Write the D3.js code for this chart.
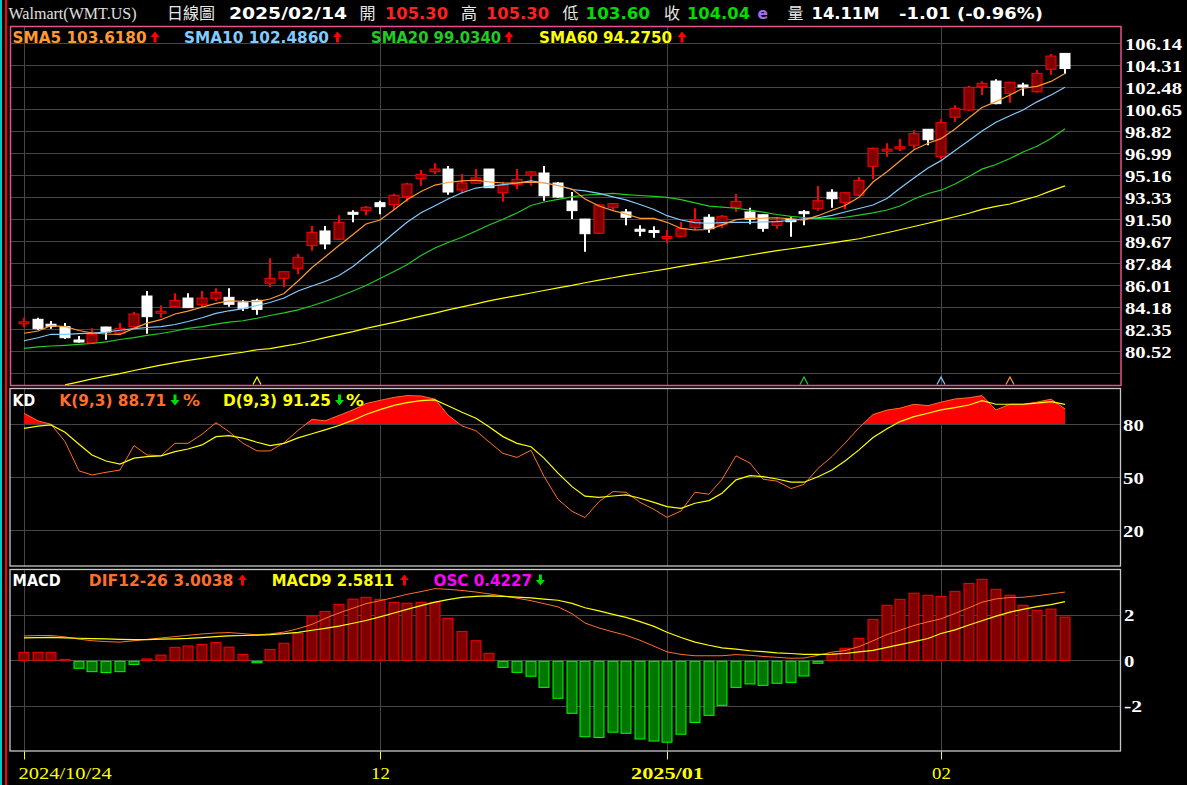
<!DOCTYPE html>
<html><head><meta charset="utf-8">
<script src="https://cdn.jsdelivr.net/npm/d3@7"></script>
<style>html,body{margin:0;padding:0;background:#000;overflow:hidden}</style>
</head><body>
<svg id="c" width="1187" height="785"></svg>
<script>
// ---------------- DATA ----------------
const dates = ["2024/10/24","2024/10/25","2024/10/28","2024/10/29","2024/10/30","2024/10/31","2024/11/01","2024/11/04","2024/11/05","2024/11/06","2024/11/07","2024/11/08","2024/11/11","2024/11/12","2024/11/13","2024/11/14","2024/11/15","2024/11/18","2024/11/19","2024/11/20","2024/11/21","2024/11/22","2024/11/25","2024/11/26","2024/11/27","2024/11/29","2024/12/02","2024/12/03","2024/12/04","2024/12/05","2024/12/06","2024/12/09","2024/12/10","2024/12/11","2024/12/12","2024/12/13","2024/12/16","2024/12/17","2024/12/18","2024/12/19","2024/12/20","2024/12/23","2024/12/24","2024/12/26","2024/12/27","2024/12/30","2024/12/31","2025/01/02","2025/01/03","2025/01/06","2025/01/07","2025/01/08","2025/01/10","2025/01/13","2025/01/14","2025/01/15","2025/01/16","2025/01/17","2025/01/21","2025/01/22","2025/01/23","2025/01/24","2025/01/27","2025/01/28","2025/01/29","2025/01/30","2025/01/31","2025/02/03","2025/02/04","2025/02/05","2025/02/06","2025/02/07","2025/02/10","2025/02/11","2025/02/12","2025/02/13","2025/02/14"];

const openP = [82.88,83.18,82.70,82.57,81.46,81.24,82.54,82.02,82.57,85.12, 83.68,84.23,84.95,84.43,84.93,85.01,84.56,84.76,86.18,86.59, 87.43,89.31,90.53,89.84,92.02,92.25,92.88,92.72,93.38,94.88, 95.46,95.68,93.94,94.50,95.68,93.71,94.41,95.16,95.35,94.52, 93.02,91.52,90.34,92.50,92.11,90.60,90.49,89.98,90.09,90.83, 91.67,91.03,92.50,92.11,91.88,91.00,91.50,92.07,92.38,93.75, 92.91,93.50,95.91,97.24,97.44,97.66,98.99,96.71,99.99,100.59, 102.53,103.00,101.98,102.61,102.11,103.98,105.30];
const highP = [83.32,83.32,83.04,82.87,81.79,82.43,82.56,82.87,83.79,85.54, 84.35,85.34,85.34,85.54,85.76,85.76,84.79,84.90,88.26,87.16, 88.61,90.94,90.94,91.83,92.25,92.61,93.05,93.63,94.54,95.60, 96.16,95.93,95.27,95.68,95.68,94.63,95.68,95.52,95.93,94.60, 93.77,91.52,92.75,92.86,92.36,91.00,90.92,90.61,91.28,92.41, 91.92,91.86,93.60,92.47,91.88,91.63,91.67,92.27,94.27,93.99, 93.75,95.02,97.45,97.82,98.18,98.90,98.99,99.82,100.98,102.59, 102.98,103.14,102.95,102.86,103.92,105.25,105.30];
const lowP = [82.52,82.29,82.40,81.54,81.24,81.20,81.49,81.85,82.48,81.98, 83.32,84.15,84.15,84.23,84.70,84.23,83.87,83.57,85.84,85.84, 86.93,88.89,89.00,89.80,91.25,91.83,91.92,92.27,92.96,94.30, 95.27,93.55,93.66,94.45,94.13,92.96,94.02,94.30,93.05,93.30, 91.52,88.80,90.30,92.19,91.00,90.09,89.97,89.50,90.05,90.61, 90.39,90.75,92.13,91.08,90.47,90.72,90.05,91.00,92.22,92.47, 92.33,93.45,94.83,96.71,97.18,97.37,97.66,96.49,99.62,100.53, 101.84,101.07,101.20,101.78,102.03,103.53,103.60];
const closeP = [82.90,82.40,82.68,81.65,81.29,81.93,82.13,82.43,83.62,83.40, 83.85,84.76,84.15,84.95,85.43,84.43,84.10,84.01,86.59,87.14, 88.34,90.42,89.45,91.25,91.98,92.50,92.55,93.50,94.44,95.24, 95.68,93.77,94.52,94.94,94.13,94.33,94.83,95.44,93.46,93.35, 92.22,90.30,92.69,92.80,91.67,90.58,90.47,90.00,90.72,91.42, 90.72,91.75,92.99,91.50,90.75,91.33,91.30,92.03,93.05,93.21, 93.71,94.74,97.41,97.26,97.46,98.62,98.12,99.54,100.73,102.48, 102.81,101.12,102.90,102.57,103.64,105.08,104.04];

const sma5 = [82.02,82.21,82.65,82.58,82.25,82.04,81.96,81.92,82.43,82.86, 83.15,83.62,83.86,84.19,84.50,84.72,84.68,84.65,84.87,85.33, 86.37,87.49,88.37,89.32,90.24,91.11,91.44,92.29,93.13,93.81, 94.35,94.56,94.69,94.75,94.62,94.52,94.52,94.60,94.52,94.31, 94.02,93.19,92.61,92.22,91.94,91.58,91.58,91.25,90.74,90.61, 90.65,91.04,91.47,91.58,91.59,91.63,91.53,91.44,91.80,92.25, 92.65,93.33,94.60,95.45,96.35,97.28,97.83,98.21,99.01,99.94, 100.80,101.29,101.84,102.40,102.56,102.97,103.62];
const sma10 = [81.40,81.65,81.94,81.93,81.99,82.04,82.11,82.27,82.40,82.50, 82.58,82.75,83.00,83.31,83.67,83.89,84.07,84.33,84.58,84.95, 85.54,85.95,86.33,86.83,87.58,88.45,89.36,90.36,91.25,92.04, 92.63,93.19,93.71,94.10,94.25,94.38,94.52,94.69,94.54,94.31, 93.98,93.86,93.65,93.36,93.11,92.73,92.32,91.80,91.44,91.23, 91.17,91.23,91.25,91.25,91.28,91.30,91.42,91.53,91.63,91.83, 92.11,92.40,92.69,93.23,94.09,94.94,95.77,96.38,97.22,98.06, 98.85,99.57,100.12,100.59,101.27,101.84,102.49];
const sma20 = [80.77,80.88,80.96,81.02,81.09,81.17,81.31,81.50,81.65,81.84, 82.00,82.21,82.42,82.58,82.78,82.94,83.06,83.27,83.50,83.71, 83.97,84.31,84.66,85.08,85.54,85.99,86.58,87.16,87.72,88.49, 89.11,89.57,90.01,90.53,91.03,91.50,92.03,92.65,92.94,93.15, 93.37,93.52,93.58,93.65,93.56,93.48,93.41,93.33,93.13,92.86, 92.59,92.51,92.42,92.26,92.09,91.90,91.75,91.65,91.58,91.58, 91.67,91.84,92.03,92.27,92.61,93.19,93.65,93.92,94.44,95.06, 95.67,96.06,96.56,97.10,97.58,98.22,99.03];
const sma60 = [null,null,null,77.72,77.97,78.22,78.45,78.67,78.92,79.14, 79.37,79.58,79.77,79.93,80.12,80.28,80.44,80.65,80.75,80.95, 81.15,81.40,81.66,81.91,82.16,82.42,82.68,82.93,83.18,83.44, 83.70,83.96,84.21,84.46,84.71,84.95,85.15,85.37,85.58,85.79, 86.00,86.22,86.44,86.64,86.83,87.01,87.20,87.38,87.58,87.77, 87.95,88.15,88.34,88.53,88.71,88.89,89.05,89.21,89.38,89.54, 89.70,89.88,90.13,90.38,90.63,90.90,91.17,91.43,91.71,92.00, 92.33,92.57,92.77,93.09,93.42,93.86,94.28];

const kVal = [86.2,81.9,80.0,70.2,53.6,51.3,52.8,54.1,67.9,62.6, 62.2,69.2,69.2,74.3,80.9,75.8,69.2,64.9,64.9,69.5, 76.5,82.8,81.9,85.0,88.1,91.7,93.5,95.2,96.2,96.0, 94.2,85.2,79.0,76.3,70.0,63.5,61.2,65.3,50.5,37.5, 30.7,27.2,36.2,41.9,41.5,35.8,31.8,27.3,30.9,41.5, 40.4,48.8,62.1,58.0,48.9,47.8,43.6,46.0,55.0,61.7, 69.3,78.0,85.5,88.0,89.1,91.3,90.5,92.5,94.3,95.0, 96.2,88.1,91.3,91.3,92.5,94.2,88.71];
const dVal = [77.7,78.9,79.6,75.5,68.7,62.6,59.2,57.4,60.8,61.7, 62.1,64.5,66.0,68.3,73.0,73.5,72.1,69.8,67.9,69.2, 72.3,74.6,76.8,79.3,82.3,85.5,88.3,90.7,92.2,93.4, 93.8,90.5,86.8,83.4,78.6,73.0,69.2,67.3,60.8,52.3, 44.7,39.3,38.6,39.4,40.0,38.1,35.8,33.4,32.4,35.3, 36.8,41.0,48.5,50.9,50.3,49.0,47.2,47.2,50.3,54.1, 59.2,65.5,72.5,77.5,81.5,84.3,86.2,88.1,89.4,90.9, 93.4,91.3,91.3,91.3,91.9,92.8,91.25];

const difVal = [1.07,1.09,1.09,1.03,0.93,0.86,0.82,0.80,0.86,0.92, 0.98,1.04,1.10,1.16,1.20,1.22,1.17,1.12,1.16,1.24, 1.39,1.58,1.84,2.08,2.29,2.49,2.62,2.76,2.90,3.02, 3.15,3.12,3.07,3.00,2.92,2.83,2.73,2.62,2.49,2.35, 2.05,1.64,1.42,1.25,1.10,0.88,0.62,0.37,0.26,0.20, 0.20,0.20,0.25,0.22,0.17,0.13,0.09,0.10,0.22,0.36, 0.43,0.60,0.86,1.13,1.32,1.53,1.69,1.82,2.06,2.31, 2.55,2.70,2.76,2.77,2.84,2.92,3.00];
const macd9Val = [0.99,1.00,1.01,0.99,0.97,0.95,0.94,0.92,0.91,0.91, 0.93,0.94,0.96,1.00,1.04,1.07,1.09,1.11,1.13,1.17, 1.23,1.32,1.40,1.50,1.63,1.75,1.91,2.08,2.24,2.40, 2.56,2.67,2.77,2.81,2.83,2.81,2.78,2.74,2.69,2.64, 2.50,2.31,2.17,2.02,1.89,1.70,1.49,1.23,1.00,0.80, 0.66,0.55,0.49,0.42,0.38,0.33,0.30,0.26,0.26,0.27, 0.30,0.37,0.44,0.57,0.69,0.82,0.96,1.18,1.34,1.55, 1.74,1.94,2.12,2.24,2.36,2.45,2.58];
const oscBar = [0.35,0.35,0.35,0.04,-0.35,-0.50,-0.54,-0.50,-0.18,0.06, 0.23,0.57,0.63,0.70,0.79,0.58,0.26,-0.06,0.48,0.75, 1.19,1.95,2.15,2.46,2.69,2.77,2.68,2.55,2.51,2.55, 2.55,1.85,1.27,0.86,0.31,-0.31,-0.53,-0.70,-1.19,-1.67, -2.33,-3.36,-3.39,-3.16,-3.21,-3.46,-3.55,-3.60,-3.25,-2.73, -2.42,-1.98,-1.19,-1.04,-1.10,-1.01,-0.97,-0.69,-0.13,0.26, 0.53,0.97,1.80,2.42,2.68,2.95,2.86,2.81,3.03,3.38, 3.56,3.12,2.86,2.42,2.20,2.25,1.90];

const priceTicks = [106.14,104.31,102.48,100.65,98.82,96.99,95.16,93.33,91.50,89.67,87.84,86.01,84.18,82.35,80.52];
const priceGridExtra = [78.69];
const kdTicks = [80,50,20];
const macdTicks = [2,0,-2];
const xTickIdx = [0,26,47,67];
const xTickText = ["2024/10/24","12","2025/01","02"];
const signalIdx = [17,57,67,72];
const signalLine = ["SMA60","SMA20","SMA10","SMA5"];

const header = {name:"Walmart(WMT.US)", kind:"日線圖", date:"2025/02/14",
  labels:["開","高","低","收"], values:["105.30","105.30","103.60","104.04"],
  e:"e", volLabel:"量", vol:"14.11M", change:"-1.01 (-0.96%)"};
const smaNames = ["SMA5","SMA10","SMA20","SMA60"];
const smaLast = ["103.6180","102.4860","99.0340","94.2750"];
const kdLegend = ["K(9,3) 88.71","D(9,3) 91.25"];
const macdLegend = ["DIF12-26 3.0038","MACD9 2.5811","OSC 0.4227"];

// ---------------- STYLE / LAYOUT ----------------
const SANS = "'DejaVu Sans', Verdana, sans-serif";
const SERIF = "'Liberation Serif','Times New Roman',serif";
const CJK = "'Noto Sans CJK TC','Noto Sans CJK SC',sans-serif";
const smaColor = {SMA5:"#FF9933", SMA10:"#80CCFF", SMA20:"#22CC22", SMA60:"#FFFF00"};
const GRID = "#454545";
const L = 10, R = 1120.5;
const main = {top:26, bot:385.5}, kd = {top:388.5, bot:566}, mp = {top:569.5, bot:751};

const svg = d3.select("#c");
svg.append("rect").attr("width",1187).attr("height",785).attr("fill","#000");

const x = d3.scalePoint().domain(dates).range([24, 1064.5]);
const cx = i => Math.round(x(dates[i]));
const y = d3.scaleLinear().domain([80.52,106.14]).range([351.3,43.3]);
const yk = d3.scaleLinear().domain([0,100]).range([565.6,388.9]);
const ym = d3.scaleLinear().domain([-4,4]).range([751.3,569.3]);

// window frame lines
svg.append("rect").attr("x",0).attr("y",0).attr("width",2).attr("height",785).attr("fill","#00C8C8");
svg.append("rect").attr("x",5).attr("y",0).attr("width",2).attr("height",785).attr("fill","#FF0000");

// clip paths
const defs = svg.append("defs");
function clip(id, t, b){ defs.append("clipPath").attr("id",id).append("rect").attr("x",L).attr("y",t).attr("width",R-L).attr("height",b-t); }
clip("cMain", main.top, main.bot); clip("cKD", kd.top, kd.bot); clip("cM", mp.top, mp.bot);
defs.append("clipPath").attr("id","cKDfill").append("rect").attr("x",L).attr("y",kd.top).attr("width",R-L).attr("height",Math.floor(yk(80))-kd.top);

// grid
function hgrid(vals, sc){ vals.forEach(v=>{ svg.append("line").attr("x1",L).attr("x2",R).attr("y1",Math.round(sc(v))+0.5).attr("y2",Math.round(sc(v))+0.5).attr("stroke",GRID).attr("stroke-width",1); }); }
hgrid(priceTicks.concat(priceGridExtra), y); hgrid(kdTicks, yk); hgrid(macdTicks, ym);
[main,kd,mp].forEach(p=>{ xTickIdx.forEach(i=>{ svg.append("line").attr("x1",cx(i)+0.5).attr("x2",cx(i)+0.5).attr("y1",p.top).attr("y2",p.bot).attr("stroke",GRID); }); });

// ---------------- MAIN PANEL ----------------
const gM = svg.append("g").attr("clip-path","url(#cMain)");
const idx = d3.range(dates.length);
gM.selectAll(".wick").data(idx).join("line")
  .attr("x1",i=>cx(i)).attr("x2",i=>cx(i))
  .attr("y1",i=>y(highP[i])).attr("y2",i=>y(lowP[i]))
  .attr("stroke",i=>closeP[i]>=openP[i]?"#FF0000":"#FFFFFF").attr("stroke-width",2);
gM.selectAll(".body").data(idx).join("rect")
  .attr("x",i=>cx(i)-5).attr("width",10)
  .attr("y",i=>{const t=y(Math.max(openP[i],closeP[i])), b=y(Math.min(openP[i],closeP[i])); return b-t<2?(t+b)/2-1:t;})
  .attr("height",i=>Math.max(2, y(Math.min(openP[i],closeP[i]))-y(Math.max(openP[i],closeP[i]))))
  .attr("fill",i=>closeP[i]>=openP[i]?"#800000":"#FFFFFF")
  .attr("stroke",i=>closeP[i]>=openP[i]?"#FF0000":"#FFFFFF").attr("stroke-width",1);
const maSeries = {SMA5:sma5, SMA10:sma10, SMA20:sma20, SMA60:sma60};
const lineGen = arr => d3.line().defined(i=>arr[i]!=null).x(i=>cx(i)).y(i=>y(arr[i]));
["SMA60","SMA20","SMA10","SMA5"].forEach(n=>{
  gM.append("path").attr("d", lineGen(maSeries[n])(idx)).attr("fill","none").attr("stroke",smaColor[n]).attr("stroke-width",1.2);
});
signalIdx.forEach((i,k)=>{
  const c = cx(i);
  svg.append("path").attr("d",`M${c-4},384.5 L${c},377 L${c+4},384.5`).attr("fill","none").attr("stroke",smaColor[signalLine[k]]).attr("stroke-width",1.2);
});

// ---------------- KD PANEL ----------------
const gK = svg.append("g").attr("clip-path","url(#cKD)");
gK.append("path").attr("clip-path","url(#cKDfill)")
  .attr("d", d3.area().x(i=>cx(i)).y0(yk(80)).y1(i=>yk(kVal[i]))(idx)).attr("fill","#FF0000");
gK.append("path").attr("d", d3.line().x(i=>cx(i)).y(i=>yk(kVal[i]))(idx)).attr("fill","none").attr("stroke","#FF6E28").attr("stroke-width",1);
gK.append("path").attr("d", d3.line().x(i=>cx(i)).y(i=>yk(dVal[i]))(idx)).attr("fill","none").attr("stroke","#FFFF00").attr("stroke-width",1.2);

// ---------------- MACD PANEL ----------------
const gP = svg.append("g").attr("clip-path","url(#cM)");
gP.selectAll(".bar").data(idx).join("rect")
  .attr("x",i=>cx(i)-5).attr("width",10)
  .attr("y",i=>oscBar[i]>=0?ym(oscBar[i]):ym(0)+1)
  .attr("height",i=>Math.max(1.5, Math.abs(ym(oscBar[i])-ym(0))-(oscBar[i]>=0?0:1)))
  .attr("fill",i=>oscBar[i]>=0?"#800000":"#007800")
  .attr("stroke",i=>oscBar[i]>=0?"#FF0000":"#00FF00").attr("stroke-width",1);
gP.append("path").attr("d", d3.line().x(i=>cx(i)).y(i=>ym(difVal[i]))(idx)).attr("fill","none").attr("stroke","#FF6E28").attr("stroke-width",1);
gP.append("path").attr("d", d3.line().x(i=>cx(i)).y(i=>ym(macd9Val[i]))(idx)).attr("fill","none").attr("stroke","#FFFF00").attr("stroke-width",1.2);

// ---------------- BORDERS ----------------
svg.append("rect").attr("x",L+0.5).attr("y",main.top+0.5).attr("width",R-L).attr("height",main.bot-main.top-0.5).attr("fill","none").attr("stroke","#E8508C").attr("stroke-width",1.5);
svg.append("rect").attr("x",L).attr("y",kd.top).attr("width",R-L).attr("height",kd.bot-kd.top).attr("fill","none").attr("stroke","#C8C8C8").attr("stroke-width",1.3);
svg.append("rect").attr("x",L).attr("y",mp.top).attr("width",R-L).attr("height",mp.bot-mp.top).attr("fill","none").attr("stroke","#C8C8C8").attr("stroke-width",1.3);

// ---------------- TEXT ----------------
function txt(s, xx, yy, o){
  const t = svg.append("text").attr("x",xx).attr("y",yy).text(s)
    .attr("fill",o.c).attr("font-family",o.f).attr("font-size",o.s).attr("font-weight",o.w||"normal");
  if (o.L) t.attr("textLength",o.L).attr("lengthAdjust","spacingAndGlyphs");
  return t;
}
function arrow(c, base, up, color){
  const top = base-11;
  const p = up
    ? `M${c},${top} L${c+4.5},${top+5.5} L${c+1.5},${top+5.5} L${c+1.5},${base} L${c-1.5},${base} L${c-1.5},${top+5.5} L${c-4.5},${top+5.5} Z`
    : `M${c},${base} L${c+4.5},${base-5.5} L${c+1.5},${base-5.5} L${c+1.5},${top} L${c-1.5},${top} L${c-1.5},${base-5.5} L${c-4.5},${base-5.5} Z`;
  svg.append("path").attr("d",p).attr("fill",color);
}
const HB = 18.5;
txt(header.name, 8.5, HB, {c:"#E0E0E0", f:SERIF, s:17, L:128});
txt(header.kind, 167, HB, {c:"#E8E8E8", f:CJK, s:16, L:48});
txt(header.date, 229, HB, {c:"#FFFFFF", f:SANS, s:16, w:"bold", L:118});
const lblX = [359.5,461,562.5,664], valX = [385,486,585.5,687], valW=[63,63,64.5,63];
const valC = ["#FF2020","#FF2020","#00DD00","#00DD00"];
header.labels.forEach((s,k)=>{ txt(s, lblX[k], HB, {c:"#E8E8E8", f:CJK, s:16}); txt(header.values[k], valX[k], HB, {c:valC[k], f:SANS, s:16, w:"bold", L:valW[k]}); });
txt(header.e, 757.5, HB, {c:"#A070F0", f:SANS, s:16, w:"bold", L:10.5});
txt(header.volLabel, 787.5, HB, {c:"#E8E8E8", f:CJK, s:16});
txt(header.vol, 811.5, HB, {c:"#FFFFFF", f:SANS, s:16, w:"bold", L:68});
txt(header.change, 899, HB, {c:"#FFFFFF", f:SANS, s:16, w:"bold", L:144});

const LB = 42.5;
const smaX = [12.6,184,371,539], smaW=[134,145,130,133], smaArr=[155,337.5,509,682];
smaNames.forEach((n,k)=>{ txt(n+" "+smaLast[k], smaX[k], LB, {c:smaColor[n], f:SANS, s:15, w:"bold", L:smaW[k]}); arrow(smaArr[k], LB, true, "#FF0000"); });

const KB = 405.5;
txt("KD", 12.6, KB, {c:"#FFFFFF", f:SANS, s:15, w:"bold", L:22.6});
txt(kdLegend[0], 59.3, KB, {c:"#FF6E28", f:SANS, s:15, w:"bold", L:107});
arrow(175, KB, false, "#00DD00");
txt("%", 183, KB, {c:"#FF6E28", f:SANS, s:15, w:"bold", L:17});
txt(kdLegend[1], 223, KB, {c:"#FFFF00", f:SANS, s:15, w:"bold", L:108});
arrow(339.5, KB, false, "#00DD00");
txt("%", 346, KB, {c:"#FFFF00", f:SANS, s:15, w:"bold", L:18});

const MB = 585.5;
txt("MACD", 12.6, MB, {c:"#FFFFFF", f:SANS, s:15, w:"bold", L:48});
txt(macdLegend[0], 88.8, MB, {c:"#FF6E28", f:SANS, s:15, w:"bold", L:144.6});
arrow(242.5, MB, true, "#FF0000");
txt(macdLegend[1], 271.7, MB, {c:"#FFFF00", f:SANS, s:15, w:"bold", L:122.5});
arrow(404.4, MB, true, "#FF0000");
txt(macdLegend[2], 433.6, MB, {c:"#FF00FF", f:SANS, s:15, w:"bold", L:98.4});
arrow(540.4, MB, false, "#00DD00");

const cw = {".":5, "-":7.6, "/":4.7};
const wBold = s => [...s].reduce((a,ch)=>a+(cw[ch]!==undefined?cw[ch]:10.4),0);
function rightAxis(sc, ticks, fmt, xx){
  const g = svg.append("g").attr("transform",`translate(${xx},0)`)
    .call(d3.axisRight(sc).tickValues(ticks).tickFormat(fmt).tickSize(0).tickPadding(0));
  g.select(".domain").remove();
  g.selectAll("text").attr("fill","#FFFFFF").attr("font-family",SERIF).attr("font-size",16).attr("font-weight","bold")
    .attr("dy","0.36em").attr("lengthAdjust","spacingAndGlyphs").attr("textLength",function(){return wBold(this.textContent);});
}
rightAxis(y, priceTicks, d => d.toFixed(2), 1125);
rightAxis(yk, kdTicks, d => String(d), 1123);
rightAxis(ym, macdTicks, d => String(d), 1124);

const gx = svg.append("g").attr("transform",`translate(0,${mp.bot+0.5})`)
  .call(d3.axisBottom(x).tickValues(xTickIdx.map(i=>dates[i])).tickFormat((d,k)=>xTickText[k]).tickSize(8));
gx.select(".domain").remove();
gx.selectAll(".tick").attr("transform",(d,k)=>`translate(${cx(xTickIdx[k])+0.5},0)`);
gx.selectAll("line").attr("stroke","#FFFF00");
const wReg = s => [...s].reduce((a,ch)=>a+(ch==="/"?9:9.4),0);
gx.selectAll("text").attr("fill","#FFFF00").attr("font-family",SERIF).attr("font-size",16)
  .attr("y",27.5).attr("dy",0)
  .attr("font-weight",(d,k)=>xTickText[k].length===7?"bold":"normal")
  .attr("text-anchor",(d,k)=>k===0?"start":"middle").attr("x",(d,k)=>k===0?-6:0)
  .attr("lengthAdjust","spacingAndGlyphs")
  .attr("textLength",(d,k)=>xTickText[k].length===7?73:wReg(xTickText[k]));
</script>
</body></html>
